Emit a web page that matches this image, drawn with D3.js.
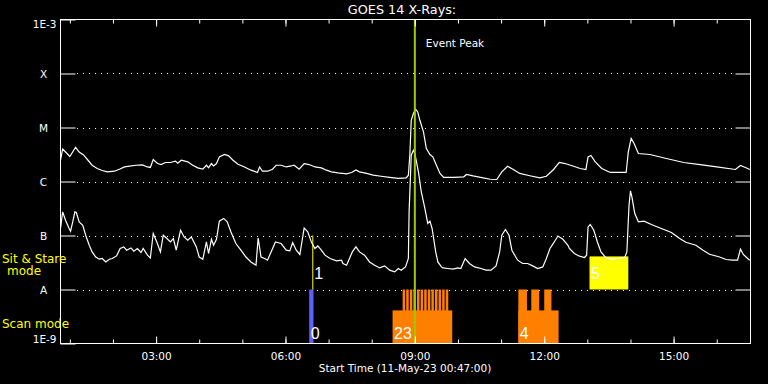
<!DOCTYPE html>
<html><head><meta charset="utf-8">
<script src="https://cdn.jsdelivr.net/npm/d3@7"></script>
<style>html,body{margin:0;padding:0;background:#000;}svg{display:block;}</style>
</head><body>
<script>
// ---------- DATA ----------
const title = "GOES 14 X-Rays:";
const xTitle = "Start Time (11-May-23 00:47:00)";
const startTime = "00:47", endTime = "16:47";
const majorTickTimes = ["03:00","06:00","09:00","12:00","15:00"];
const minorTickTimes = ["01:00","02:00","03:00","04:00","05:00","06:00","07:00","08:00","09:00","10:00","11:00","12:00","13:00","14:00","15:00","16:00"];
const yTickValues = [1e-3,1e-4,1e-5,1e-6,1e-7,1e-8,1e-9];
const yTickLabels = ["1E-3","X","M","C","B","A","1E-9"];
const gridLevels = [1e-4,1e-5,1e-6,1e-7,1e-8];

// long channel (upper curve)
const longTimes = ["00:47","00:50","00:56","01:00","01:08","01:13","01:19","01:25","01:31","01:38",
"01:45","01:52","02:02","02:09","02:16","02:23","02:32","02:41","02:48","02:52",
"02:56","03:02","03:07","03:13","03:20","03:27","03:30","03:35","03:44","03:51",
"03:58","04:05","04:10","04:13","04:17","04:20","04:24","04:28","04:35","04:41",
"04:47","04:54","05:03","05:12","05:21","05:24","05:28","05:35","05:42","05:47",
"05:54","06:01","06:08","06:12","06:19","06:26","06:33","06:41","06:50","06:57",
"07:04","07:13","07:25","07:32","07:38","07:43","07:53","08:02","08:13","08:25",
"08:37","08:48","08:51","08:53","08:55","08:58","09:01","09:04","09:07","09:12",
"09:16","09:21","09:25","09:30","09:35","09:40","09:54","10:08","10:12","10:21",
"10:35","10:45","10:54","11:01","11:09","11:17","11:26","11:40","11:54","12:03",
"12:13","12:21","12:29","12:41","12:50","12:58","13:01","13:05","13:11","13:20",
"13:32","13:54","13:57","14:01","14:05","14:11","14:27","14:50","15:14","15:37",
"16:00","16:26","16:33","16:40","16:46"];
const longFlux = [2.5e-6,4.0e-6,3.3e-6,2.9e-6,4.3e-6,3.5e-6,3.1e-6,2.5e-6,2.0e-6,1.74e-6,
1.6e-6,1.51e-6,1.55e-6,1.69e-6,1.86e-6,1.92e-6,2.0e-6,2.03e-6,1.86e-6,1.82e-6,
2.55e-6,2.15e-6,2.06e-6,2.25e-6,2.25e-6,2.38e-6,2.18e-6,2.48e-6,2.31e-6,2.0e-6,
1.79e-6,1.69e-6,2.0e-6,1.79e-6,2.15e-6,1.94e-6,2.15e-6,2.86e-6,3.16e-6,2.98e-6,
2.48e-6,2.09e-6,1.86e-6,1.62e-6,1.47e-6,1.86e-6,1.55e-6,1.55e-6,1.69e-6,2.0e-6,
2.0e-6,1.86e-6,1.94e-6,2.0e-6,1.69e-6,2.15e-6,2.06e-6,1.86e-6,1.79e-6,1.62e-6,
1.51e-6,1.44e-6,1.38e-6,1.47e-6,1.64e-6,1.51e-6,1.41e-6,1.31e-6,1.25e-6,1.19e-6,
1.14e-6,1.17e-6,1.31e-6,3.07e-6,1.36e-5,1.82e-5,2.18e-5,1.94e-5,1.36e-5,8.3e-6,
4.08e-6,3.16e-6,2.86e-6,2.0e-6,1.41e-6,1.19e-6,1.19e-6,1.22e-6,1.35e-6,1.27e-6,
1.17e-6,1.10e-6,1.09e-6,1.51e-6,1.92e-6,1.67e-6,1.41e-6,1.28e-6,1.17e-6,1.25e-6,
1.67e-6,2.25e-6,2.15e-6,1.92e-6,1.74e-6,1.67e-6,2.86e-6,3.03e-6,2.31e-6,1.74e-6,
1.47e-6,1.47e-6,3.53e-6,6.26e-6,5.06e-6,3.30e-6,3.16e-6,2.67e-6,2.25e-6,2.06e-6,
1.86e-6,1.67e-6,1.98e-6,1.82e-6,1.67e-6];

// short channel (lower curve)
const shortTimes = ["00:47","00:50","00:54","00:59","01:01","01:04","01:07","01:09","01:13","01:18",
"01:22","01:27","01:31","01:36","01:41","01:45","01:50","01:55","01:59","02:05",
"02:10","02:15","02:19","02:25","02:29","02:34","02:39","02:42","02:48","02:52",
"02:56","03:01","03:06","03:10","03:15","03:20","03:24","03:28","03:34","03:39",
"03:44","03:49","03:56","04:00","04:05","04:10","04:13","04:17","04:20","04:24",
"04:28","04:34","04:39","04:44","04:51","04:58","05:05","05:12","05:19","05:22",
"05:26","05:31","05:35","05:40","05:46","05:54","06:01","06:06","06:10","06:15",
"06:20","06:26","06:31","06:36","06:41","06:45","06:50","06:55","07:02","07:11",
"07:18","07:20","07:25","07:28","07:33","07:38","07:43","07:50","07:57","08:04",
"08:11","08:18","08:25","08:32","08:37","08:41","08:47","08:51","08:52","08:55",
"08:58","09:00","09:05","09:09","09:14","09:18","09:21","09:24","09:29","09:32",
"09:37","09:39","09:46","09:53","10:00","10:04","10:10","10:16","10:23","10:32",
"10:39","10:46","10:53","10:58","11:01","11:06","11:11","11:15","11:23","11:30",
"11:37","11:44","11:51","11:58","12:03","12:08","12:14","12:19","12:26","12:33",
"12:35","12:42","12:49","12:56","12:59","13:01","13:04","13:09","13:14","13:19",
"13:26","13:33","13:42","13:52","13:55","13:58","14:00","14:02","14:06","14:11",
"14:19","14:29","14:43","14:57","15:08","15:17","15:31","15:41","15:50","16:04",
"16:13","16:22","16:29","16:33","16:37","16:43","16:46"];
const shortFlux = [1.35e-7,2.74e-7,1.92e-7,1.35e-7,1.2e-7,1.79e-7,2.74e-7,2.67e-7,1.79e-7,1.55e-7,
1.01e-7,6.6e-8,4.97e-8,4.0e-8,3.64e-8,3.75e-8,3.24e-8,3.64e-8,3.75e-8,4.19e-8,
5.74e-8,6.15e-8,5.34e-8,5.89e-8,5.12e-8,5.74e-8,4.84e-8,5.74e-8,4.32e-8,3.85e-8,
1.09e-7,7.6e-8,4.97e-8,1.01e-7,8.8e-8,7.6e-8,8.8e-8,5.34e-8,1.25e-7,9.4e-8,
8.2e-8,9.4e-8,6.15e-8,4.0e-8,3.64e-8,7.6e-8,4.64e-8,8.5e-8,6.6e-8,8.5e-8,
1.84e-7,2.07e-7,1.79e-7,1.17e-7,7.1e-8,5.34e-8,4.0e-8,3.24e-8,2.82e-8,9.0e-8,
4.0e-8,3.75e-8,3.49e-8,4.97e-8,7.6e-8,7.1e-8,5.34e-8,5.19e-8,7.4e-8,5.34e-8,
4.45e-8,1.38e-7,1.17e-7,7.6e-8,5.74e-8,6.4e-8,5.34e-8,4.32e-8,3.75e-8,3.39e-8,
3.49e-8,3.03e-8,2.82e-8,3.49e-8,4.97e-8,6.15e-8,4.97e-8,4.32e-8,3.24e-8,2.82e-8,
2.51e-8,2.74e-8,2.28e-8,2.12e-8,2.45e-8,2.28e-8,2.62e-8,3.75e-8,2.74e-7,3.07e-6,
3.8e-6,3.3e-6,1.51e-6,6.4e-7,3.16e-7,1.67e-7,1.84e-7,1.35e-7,4.97e-8,3.24e-8,
2.62e-8,2.51e-8,2.45e-8,2.38e-8,2.51e-8,2.45e-8,3.75e-8,3.03e-8,2.62e-8,2.45e-8,
2.28e-8,2.28e-8,2.74e-8,4.97e-8,1.01e-7,1.29e-7,1.01e-7,5.34e-8,3.49e-8,3.03e-8,
3.03e-8,2.74e-8,2.45e-8,2.62e-8,3.75e-8,5.74e-8,7.6e-8,9.8e-8,8.5e-8,6.6e-8,
5.74e-8,4.64e-8,4.14e-8,3.91e-8,4.32e-8,1.44e-7,1.6e-7,1.25e-7,7.6e-8,4.97e-8,
3.85e-8,3.64e-8,3.75e-8,3.91e-8,4.97e-8,3.64e-7,6.7e-7,5.19e-7,2.55e-7,1.79e-7,
1.84e-7,1.6e-7,1.35e-7,1.14e-7,8.9e-8,7.5e-8,6.6e-8,5.34e-8,4.5e-8,4.0e-8,
3.59e-8,3.49e-8,3.49e-8,5.57e-8,4.45e-8,3.75e-8,3.49e-8];

// scan-mode blocks (bottom)
const scanLabels = ["0","23","4"];
const scanStarts = ["06:33","08:29","11:24"];
const scanEnds   = ["06:39","09:52","12:20"];
const scanTops   = [1e-8, 4.1e-9, 4.1e-9];
const scanKinds  = ["blue","orange","orange"];
// tall scan teeth
const toothStarts = ["08:43:00","08:48:00","08:53:00","08:58:00","09:03:00","09:08:00","09:13:00","09:18:00","09:23:00","09:28:00","09:33:00","09:38:00","09:43:00","11:24:00","11:42:00","12:00:00"];
const toothEnds   = ["08:46:30","08:51:30","08:56:30","09:01:30","09:06:30","09:11:30","09:16:30","09:21:30","09:26:30","09:31:30","09:36:30","09:41:30","09:46:30","11:36:00","11:53:00","12:10:00"];
const toothTop = 1e-8;
// sit & stare blocks
const stareLabels = ["1","5"];
const stareStarts = ["06:38","13:03"];
const stareEnds   = ["06:38","13:57"];
const stareTops   = [1e-7, 4.1e-8];
const stareBase = 1e-8, scanBase = 1e-9;
// event peak
const eventPeakTime = "09:00";
const eventPeakLabel = "Event Peak";
const modeLabels = ["Sit & Stare","mode","Scan mode"];

// ---------- DRAW ----------
const W = 768, H = 384;
const parseT = s => { const p = s.split(":").map(Number); return new Date(Date.UTC(2023,4,11,p[0],p[1],p[2]||0)); };
const x = d3.scaleUtc().domain([parseT(startTime), parseT(endTime)]).range([60.5, 750.5]);
const y = d3.scaleLog().domain([1e-9, 1e-3]).range([343.5, 19.5]);
const FONT = "DejaVu Sans";

const svg = d3.select("body").append("svg").attr("width", W).attr("height", H)
  .style("background", "#000");

svg.append("defs").append("clipPath").attr("id","plotclip")
  .append("rect").attr("x",60.5).attr("y",19.5).attr("width",690).attr("height",324);

// grid dotted lines
svg.append("g").selectAll("line").data(gridLevels).join("line")
  .attr("x1", 77).attr("x2", 734)
  .attr("y1", d => Math.round(y(d)) + 0.5).attr("y2", d => Math.round(y(d)) + 0.5)
  .attr("stroke", "#fff").attr("stroke-width", 1).attr("stroke-dasharray", "1,5");

// scan blocks
const colorOf = d3.scaleOrdinal().domain(["blue","orange"]).range(["#5f5fff","#ff8000"]);
const plot = svg.append("g").attr("clip-path","url(#plotclip)");
plot.append("g").selectAll("rect").data(scanLabels.map((l,i)=>i)).join("rect")
  .attr("x", i => x(parseT(scanStarts[i])))
  .attr("width", i => x(parseT(scanEnds[i])) - x(parseT(scanStarts[i])))
  .attr("y", i => y(scanTops[i]))
  .attr("height", i => y(scanBase) - y(scanTops[i]))
  .attr("fill", i => colorOf(scanKinds[i]));
plot.append("g").selectAll("rect").data(toothStarts.map((s,i)=>i)).join("rect")
  .attr("x", i => x(parseT(toothStarts[i])))
  .attr("width", i => x(parseT(toothEnds[i])) - x(parseT(toothStarts[i])))
  .attr("y", y(toothTop))
  .attr("height", y(scanBase) - y(toothTop))
  .attr("fill", colorOf("orange"));
// stare blocks
plot.append("g").selectAll("rect").data(stareLabels.map((l,i)=>i)).join("rect")
  .attr("x", i => x(parseT(stareStarts[i])) - (stareStarts[i]===stareEnds[i] ? 0.5 : 0))
  .attr("width", i => Math.max(1, x(parseT(stareEnds[i])) - x(parseT(stareStarts[i]))))
  .attr("y", i => y(stareTops[i]))
  .attr("height", i => y(stareBase) - y(stareTops[i]))
  .attr("fill", "#ffff00");

// curves
const line = d3.line().x(d => x(d[0])).y(d => y(d[1]));
const longData = longTimes.map((t,i)=>[parseT(t), longFlux[i]]);
const shortData = shortTimes.map((t,i)=>[parseT(t), shortFlux[i]]);
plot.append("path").datum(longData).attr("d", line)
  .attr("fill","none").attr("stroke","#fff").attr("stroke-width",1.2);
plot.append("path").datum(shortData).attr("d", line)
  .attr("fill","none").attr("stroke","#fff").attr("stroke-width",1.2);

// block labels
plot.append("g").selectAll("text").data(scanLabels.map((l,i)=>i)).join("text")
  .attr("x", i => x(parseT(scanStarts[i])) + 1.5).attr("y", 339)
  .attr("fill","#fff").attr("font-family","Liberation Sans").attr("font-size",16)
  .text(i => scanLabels[i]);
plot.append("g").selectAll("text").data(stareLabels.map((l,i)=>i)).join("text")
  .attr("x", i => x(parseT(stareStarts[i])) + 1.5).attr("y", 278.5)
  .attr("fill","#fff").attr("font-family","Liberation Sans").attr("font-size",16)
  .text(i => stareLabels[i]);

// event peak
const ex = x(parseT(eventPeakTime));
svg.append("line").attr("x1", ex).attr("x2", ex).attr("y1", 19.5).attr("y2", 343.5)
  .attr("stroke","#99cc00").attr("stroke-width",2);
svg.append("text").attr("x", ex + 11).attr("y", 46.5).attr("fill","#fff")
  .attr("font-family",FONT).attr("font-size",10.5).text(eventPeakLabel);

// axes
function styleAxis(g){ g.select(".domain").remove(); g.selectAll("line").attr("stroke","#fff"); g.selectAll("text").attr("fill","#fff").attr("font-family",FONT); }
svg.append("g").attr("transform","translate(0,343.5)")
  .call(d3.axisBottom(x).tickValues(minorTickTimes.map(parseT)).tickSize(-4).tickFormat("")).call(styleAxis);
const xMaj = svg.append("g").attr("transform","translate(0,343.5)")
  .call(d3.axisBottom(x).tickValues(majorTickTimes.map(parseT)).tickSize(-7).tickFormat(d3.utcFormat("%H:%M"))).call(styleAxis);
xMaj.selectAll("text").attr("y",16).attr("dy",0).attr("font-size",10.5);
svg.append("g").attr("transform","translate(0,19.5)")
  .call(d3.axisTop(x).tickValues(minorTickTimes.map(parseT)).tickSize(-4).tickFormat("")).call(styleAxis);
svg.append("g").attr("transform","translate(0,19.5)")
  .call(d3.axisTop(x).tickValues(majorTickTimes.map(parseT)).tickSize(-7).tickFormat("")).call(styleAxis);

const yL = svg.append("g").attr("transform","translate(60.5,0)")
  .call(d3.axisLeft(y).tickValues(yTickValues).tickSize(-15).tickFormat((d,i)=>yTickLabels[i])).call(styleAxis);
yL.selectAll("text").attr("font-size",10.5).attr("text-anchor","middle").attr("x",-17).attr("dy","0.36em")
  .each(function(d,i){ if(i===0){ d3.select(this).attr("text-anchor","end").attr("x",-4).attr("dy","0.74em"); }
                       if(i===yTickValues.length-1){ d3.select(this).attr("text-anchor","end").attr("x",-4).attr("dy","-0.05em"); } });
svg.append("g").attr("transform","translate(750.5,0)")
  .call(d3.axisRight(y).tickValues(gridLevels).tickSize(-15).tickFormat("")).call(styleAxis);

// frame
svg.append("rect").attr("x",60.5).attr("y",19.5).attr("width",690).attr("height",324)
  .attr("fill","none").attr("stroke","#fff").attr("stroke-width",1);

// titles
svg.append("text").attr("x",402).attr("y",14).attr("text-anchor","middle").attr("fill","#fff")
  .attr("font-family",FONT).attr("font-size",12.8).text(title);
svg.append("text").attr("x",405).attr("y",371.5).attr("text-anchor","middle").attr("fill","#fff")
  .attr("font-family",FONT).attr("font-size",10.5).text(xTitle);

// mode labels
svg.append("text").attr("x",2).attr("y",262.5).attr("fill","#ffff00").attr("font-family",FONT).attr("font-size",12).text(modeLabels[0]);
svg.append("text").attr("x",24).attr("y",275).attr("text-anchor","middle").attr("fill","#ffff00").attr("font-family",FONT).attr("font-size",12).text(modeLabels[1]);
svg.append("text").attr("x",2).attr("y",327.5).attr("fill","#ffff00").attr("font-family",FONT).attr("font-size",12).text(modeLabels[2]);
</script>
</body></html>
